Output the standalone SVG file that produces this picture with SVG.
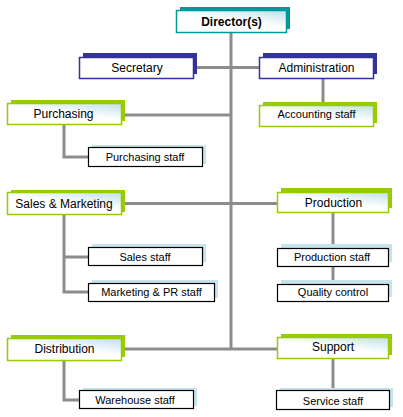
<svg xmlns="http://www.w3.org/2000/svg" width="403" height="417" viewBox="0 0 403 417">
<defs>
<linearGradient id="g" x1="0.35" y1="1" x2="1" y2="0">
<stop offset="0" stop-color="#ffffff"/>
<stop offset="0.45" stop-color="#ffffff"/>
<stop offset="1" stop-color="#bfe0ea"/>
</linearGradient>
<style>
.teal-s{fill:#009999}
.navy-s{fill:#333399}
.green-s{fill:#99cc00}
.blue-s{fill:#c6e4ec}
.teal{fill:url(#g);stroke:#009999;stroke-width:1.5}
.navy{fill:#ffffff;stroke:#333399;stroke-width:1.5}
.green{fill:url(#g);stroke:#99cc00;stroke-width:1.5}
.staff{fill:#ffffff;stroke:#000000;stroke-width:1.2}
text{font-family:"Liberation Sans",Arial,sans-serif;fill:#000;text-anchor:middle}
.t12{font-size:12px}
.t11{font-size:11px}
.b{font-weight:bold;font-size:12px}
.c{fill:none;stroke:#8c8c8c;stroke-width:3}
</style>
</defs>
<rect width="403" height="417" fill="#ffffff"/>
<g id="connectors">
<path class="c" d="M231 33V349"/>
<path class="c" d="M194 67.5H259"/>
<path class="c" d="M122 115H231"/>
<path class="c" d="M64 124V157H88"/>
<path class="c" d="M323 79V105"/>
<path class="c" d="M122 203.5H277"/>
<path class="c" d="M64 215V292H88M64 257H88"/>
<path class="c" d="M333 212V248M333 266V284"/>
<path class="c" d="M122 349H277"/>
<path class="c" d="M64 360V400H79"/>
<path class="c" d="M333 358V390"/>
</g>
<g id="director">
<rect class="teal-s" x="180" y="7" width="110" height="22"/>
<rect class="teal" x="176.5" y="10.5" width="110" height="22"/>
<text class="b" x="231.5" y="25.5">Director(s)</text>
</g>
<g id="secretary">
<rect class="navy-s" x="83" y="53" width="114" height="21"/>
<rect class="navy" x="79.5" y="57.5" width="114" height="21"/>
<text class="t12" x="137" y="72">Secretary</text>
</g>
<g id="administration">
<rect class="navy-s" x="263" y="53" width="114" height="21"/>
<rect class="navy" x="259.5" y="57.5" width="114" height="21"/>
<text class="t12" x="316.5" y="72">Administration</text>
</g>
<g id="accounting">
<rect class="green-s" x="263" y="102" width="114" height="21"/>
<rect class="green" x="259.5" y="105.5" width="114" height="21"/>
<text class="t11" x="316.5" y="118">Accounting staff</text>
</g>
<g id="purchasing">
<rect class="green-s" x="11" y="100" width="114" height="21"/>
<rect class="green" x="7.5" y="103.5" width="114" height="21"/>
<text class="t12" x="63.5" y="118">Purchasing</text>
</g>
<g id="purchasing-staff">
<rect class="blue-s" x="92" y="145" width="114" height="19"/>
<rect class="staff" x="88.5" y="147.5" width="114" height="19"/>
<text class="t11" x="145" y="161">Purchasing staff</text>
</g>
<g id="sales-marketing">
<rect class="green-s" x="11" y="190" width="114" height="22"/>
<rect class="green" x="7.5" y="192.5" width="114" height="22"/>
<text class="t12" x="64" y="208">Sales &amp; Marketing</text>
</g>
<g id="sales-staff">
<rect class="blue-s" x="92" y="244" width="114" height="18"/>
<rect class="staff" x="88.5" y="247.5" width="114" height="18"/>
<text class="t11" x="145" y="260.5">Sales staff</text>
</g>
<g id="marketing-pr">
<rect class="blue-s" x="92" y="280" width="126" height="18"/>
<rect class="staff" x="88.5" y="283.5" width="126" height="18"/>
<text class="t11" x="151.5" y="296">Marketing &amp; PR staff</text>
</g>
<g id="production">
<rect class="green-s" x="281" y="188" width="111" height="20"/>
<rect class="green" x="277.5" y="192.5" width="111" height="20"/>
<text class="t12" x="333.5" y="206.5">Production</text>
</g>
<g id="production-staff">
<rect class="blue-s" x="281" y="244" width="111" height="18"/>
<rect class="staff" x="277.5" y="248.5" width="111" height="18"/>
<text class="t11" x="332" y="260.5">Production staff</text>
</g>
<g id="quality-control">
<rect class="blue-s" x="281" y="280" width="111" height="17"/>
<rect class="staff" x="277.5" y="284.5" width="111" height="17"/>
<text class="t11" x="333" y="295.5">Quality control</text>
</g>
<g id="distribution">
<rect class="green-s" x="11" y="335" width="114" height="22"/>
<rect class="green" x="7.5" y="338.5" width="114" height="22"/>
<text class="t12" x="64.5" y="353">Distribution</text>
</g>
<g id="support">
<rect class="green-s" x="281" y="334" width="111" height="21"/>
<rect class="green" x="277.5" y="337.5" width="111" height="21"/>
<text class="t12" x="333" y="351">Support</text>
</g>
<g id="warehouse-staff">
<rect class="blue-s" x="83" y="388" width="114" height="18"/>
<rect class="staff" x="79.5" y="390.5" width="114" height="18"/>
<text class="t11" x="135" y="404">Warehouse staff</text>
</g>
<g id="service-staff">
<rect class="blue-s" x="280" y="388" width="113" height="19"/>
<rect class="staff" x="276.5" y="390.5" width="113" height="19"/>
<text class="t11" x="333" y="404.5">Service staff</text>
</g>
</svg>
